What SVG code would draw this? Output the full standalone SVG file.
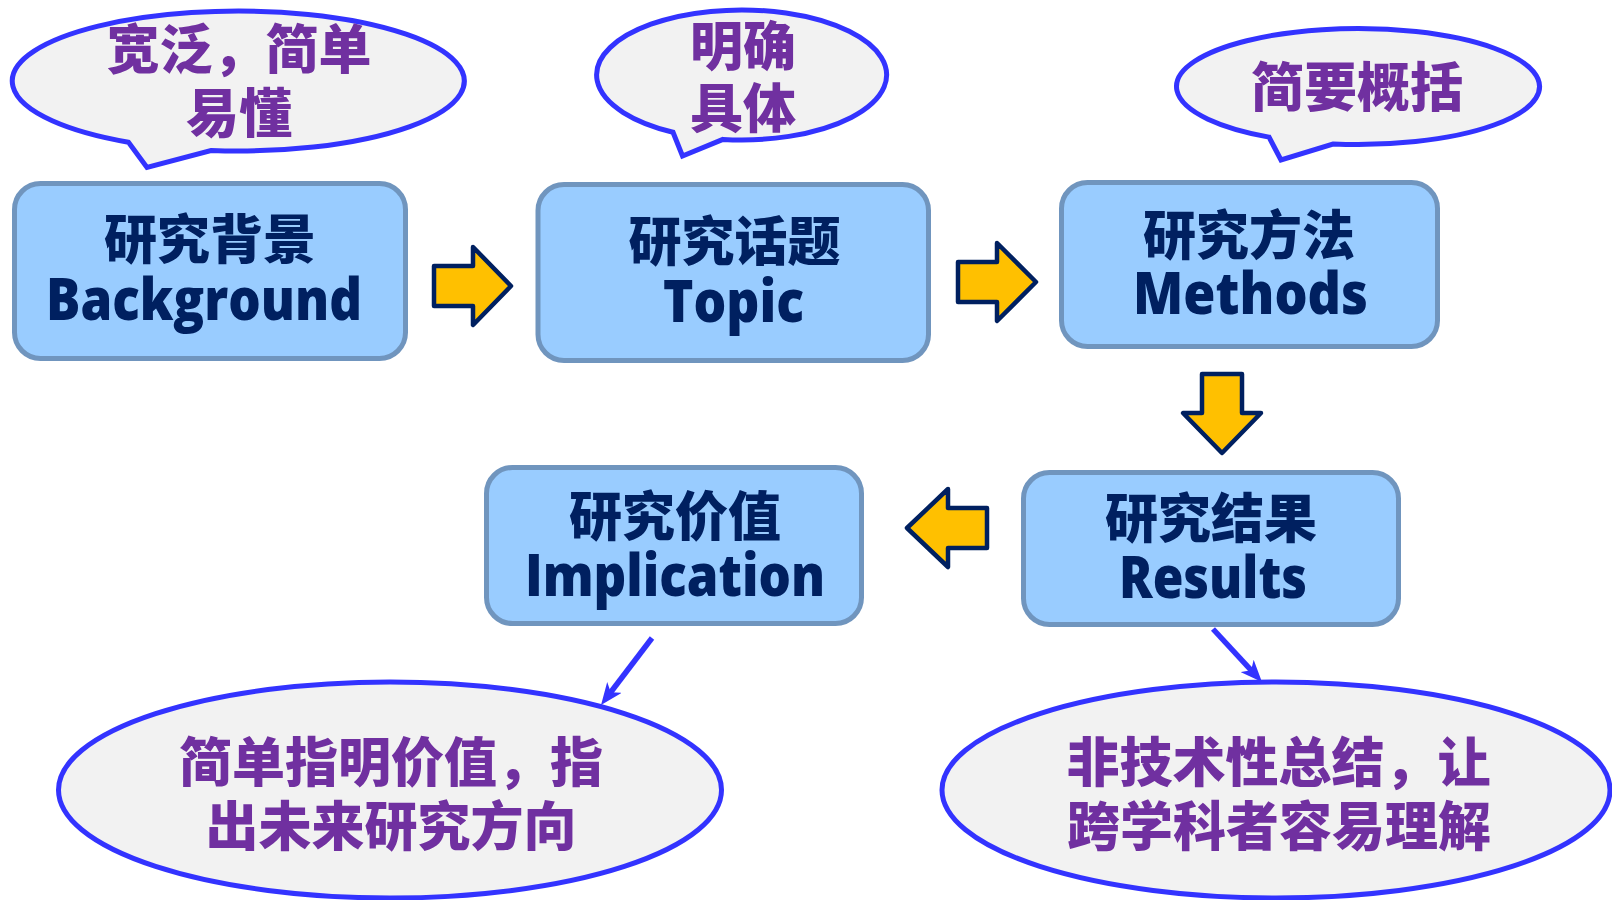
<svg xmlns="http://www.w3.org/2000/svg" width="1612" height="900" viewBox="0 0 1612 900">
<style>
.box{fill:#99CCFF;stroke:#7095BE;stroke-width:5}
.bub{fill:#F2F2F2;stroke:#3333FF;stroke-width:5;stroke-linejoin:miter}
.cn{font-family:"Noto Sans CJK SC","Noto Sans CJK TC",sans-serif;font-weight:900;font-size:53px;text-anchor:middle}
.en{font-family:"Open Sans","Noto Sans",sans-serif;font-weight:800;font-size:58px}
.navy{fill:#002060}
.pur{fill:#7030A0}
.ya{fill:#FFC000;stroke:#002060;stroke-width:4.5;stroke-linejoin:round}
.bl{fill:none;stroke:#3333FF;stroke-width:5.5}
</style>
<defs>
<marker id="ah" viewBox="0 0 22 18" markerWidth="22" markerHeight="18" markerUnits="userSpaceOnUse" refX="12" refY="9" orient="auto">
<path d="M0,0 L22,9 L0,18 L6,9 Z" fill="#3333FF"/>
</marker>
</defs>
<rect width="1612" height="900" fill="#FFFFFF"/>

<g id="bubble-background">
<path class="bub" d="M128.5,142.2 A226,70 0 1 1 211,150.5 L147,167.5 Z"/>
<text class="cn pur" x="239" y="69">宽泛，简单</text>
<text class="cn pur" x="239" y="133">易懂</text>
</g>

<g id="bubble-topic">
<path class="bub" d="M673,132.2 A145,65 0 1 1 723,139.4 L682.5,156 Z"/>
<text class="cn pur" x="743" y="66">明确</text>
<text class="cn pur" x="743" y="128">具体</text>
</g>

<g id="bubble-methods">
<path class="bub" d="M1269,137.1 A181.5,58 0 1 1 1333,144 L1281,160 Z"/>
<text class="cn pur" x="1357" y="107">简要概括</text>
</g>

<g id="node-background">
<rect class="box" x="14.5" y="183.5" width="391" height="175" rx="26"/>
<text class="cn navy" x="210" y="259">研究背景</text>
<text class="en navy" x="46" y="320" textLength="316" lengthAdjust="spacingAndGlyphs">Background</text>
</g>

<g id="node-topic">
<rect class="box" x="538" y="184.5" width="390.5" height="176" rx="26"/>
<text class="cn navy" x="734.5" y="261">研究话题</text>
<text class="en navy" x="663" y="322" textLength="141" lengthAdjust="spacingAndGlyphs">Topic</text>
</g>

<g id="node-methods">
<rect class="box" x="1061.5" y="182.5" width="376" height="164" rx="26"/>
<text class="cn navy" x="1249" y="255">研究方法</text>
<text class="en navy" x="1133" y="313.5" textLength="235" lengthAdjust="spacingAndGlyphs">Methods</text>
</g>

<g id="node-results">
<rect class="box" x="1023.5" y="472.5" width="375" height="152" rx="26"/>
<text class="cn navy" x="1211" y="538">研究结果</text>
<text class="en navy" x="1119" y="598" textLength="188" lengthAdjust="spacingAndGlyphs">Results</text>
</g>

<g id="node-implication">
<rect class="box" x="486.5" y="467.5" width="375" height="156" rx="26"/>
<text class="cn navy" x="675" y="536">研究价值</text>
<text class="en navy" x="525" y="596" textLength="300" lengthAdjust="spacingAndGlyphs">Implication</text>
</g>

<g id="note-implication">
<ellipse class="bub" cx="390" cy="790" rx="331.5" ry="108"/>
<text class="cn pur" x="391" y="782">简单指明价值，指</text>
<text class="cn pur" x="391" y="846">出未来研究方向</text>
</g>

<g id="note-results">
<ellipse class="bub" cx="1276" cy="790" rx="334" ry="108"/>
<text class="cn pur" x="1278.5" y="782">非技术性总结，让</text>
<text class="cn pur" x="1279" y="846">跨学科者容易理解</text>
</g>

<g id="connectors">
<polygon class="ya" points="434,266 473,266 473,247 511,286 473,325 473,306 434,306"/>
<polygon class="ya" points="958,262 997,262 997,243 1036,282 997,321 997,302 958,302"/>
<polygon class="ya" points="1202,374 1242,374 1242,413 1261,413 1222,453 1183,413 1202,413"/>
<polygon class="ya" points="987,508 948,508 948,489 907,528 948,567 948,548 987,548"/>
<line class="bl" x1="652" y1="638" x2="607.1" y2="697" marker-end="url(#ah)"/>
<line class="bl" x1="1213" y1="629" x2="1255.2" y2="674.7" marker-end="url(#ah)"/>
</g>
</svg>
